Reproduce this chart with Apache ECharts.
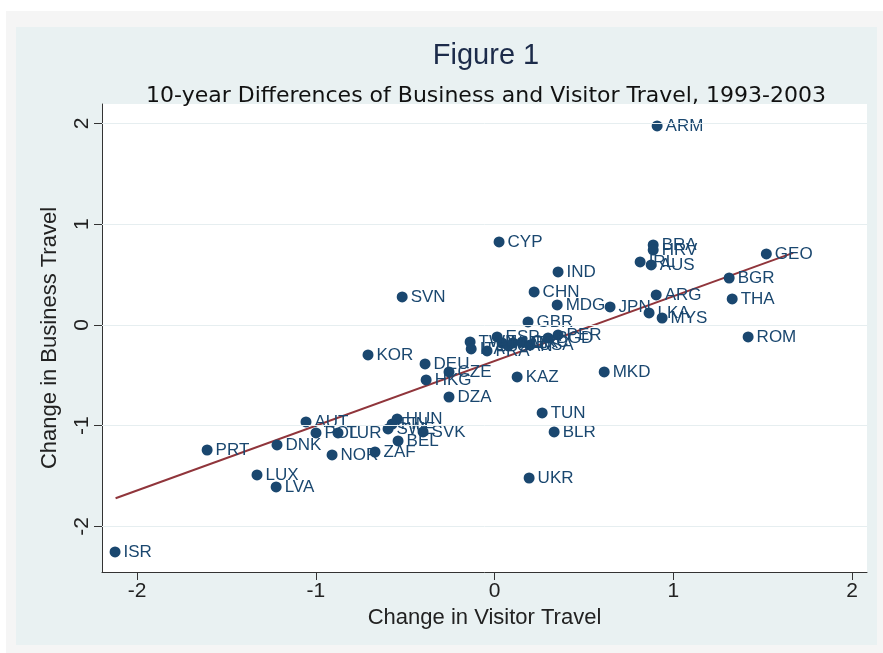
<!DOCTYPE html>
<html>
<head>
<meta charset="utf-8">
<script src="https://cdn.jsdelivr.net/npm/echarts@6/dist/echarts.min.js"></script>
<style>
  html, body { margin: 0; padding: 0; background: #ffffff; }
  #main { width: 883px; height: 653px; }
</style>
</head>
<body>
<div id="main"></div>
<script>
// country codes, visitor travel change (x), business travel change (y)
var countries = ['ARM','CYP','BRA','HRV','IRL','AUS','GEO','BGR','ARG','THA','JPN','LKA','MYS','ROM',
    'IND','CHN','MDG','GBR','SVN','KOR','DEU','HKG','CZE','DZA','KAZ','MKD','TUN','BLR','UKR',
    'AUT','DNK','POL','TUR','NOR','ZAF','HUN','FIN','SWE','SVK','BEL','PRT','LUX','LVA','ISR',
    'TWN','ITA','FRA','ESP','NLD','CAN','MEX','GRC','USA','BGD','PER'];
var visitor = [0.909,0.025,0.887,0.887,0.814,0.876,1.520,1.312,0.904,1.329,0.646,0.864,0.937,1.418,
    0.355,0.221,0.350,0.187,-0.517,-0.708,-0.389,-0.383,-0.255,-0.255,0.126,0.613,0.266,0.333,0.193,
    -1.055,-1.217,-0.999,-0.876,-0.909,-0.669,-0.545,-0.573,-0.596,-0.400,-0.540,-1.608,-1.329,-1.222,-2.123,
    -0.137,-0.131,-0.042,0.014,0.042,0.076,0.103,0.154,0.199,0.299,0.355];
var business = [1.975,0.824,0.794,0.744,0.625,0.596,0.705,0.466,0.298,0.258,0.179,0.119,0.069,-0.119,
    0.526,0.328,0.199,0.030,0.278,-0.298,-0.387,-0.546,-0.466,-0.715,-0.516,-0.466,-0.873,-1.062,-1.519,
    -0.963,-1.191,-1.072,-1.072,-1.290,-1.261,-0.933,-0.983,-1.032,-1.062,-1.151,-1.241,-1.489,-1.608,-2.253,
    -0.169,-0.238,-0.258,-0.119,-0.179,-0.208,-0.179,-0.169,-0.199,-0.129,-0.099];

// fitted line end points
var fitX = [-2.12, 1.67];
var fitY = [-1.72, 0.715];

var tickValues = [-2, -1, 0, 1, 2];

var points = [];
for (var i = 0; i < countries.length; i++) {
    points.push([visitor[i], business[i], countries[i]]);
}
var fitLine = [[fitX[0], fitY[0]], [fitX[1], fitY[1]]];
var gridLines = tickValues.map(function (v) { return { yAxis: v }; });

var navy = '#1a476f';
var font = "'Liberation Sans', Arial, sans-serif";

var myChart = echarts.init(document.getElementById('main'));

var option = {
    animation: false,
    backgroundColor: '#ffffff',
    graphic: [
        { type: 'rect', z: -10, shape: { x: 6, y: 11, width: 877, height: 642 }, style: { fill: '#f5f5f5' } },
        { type: 'rect', z: -9, shape: { x: 16, y: 27, width: 861, height: 618 }, style: { fill: '#e9f1f2' } },
        { type: 'rect', z: -8, shape: { x: 102, y: 104, width: 765, height: 468 }, style: { fill: '#ffffff' } }
    ],
    title: [{
        text: 'Figure 1',
        left: 481, top: 36, textAlign: 'center',
        textStyle: { fontFamily: font, fontSize: 29, fontWeight: 'normal', color: '#1c2b4a' }
    }, {
        text: '10-year Differences of Business and Visitor Travel, 1993-2003',
        left: 481, top: 80, textAlign: 'center',
        textStyle: { fontFamily: "'DejaVu Sans', sans-serif", fontSize: 22, fontWeight: 'normal', color: '#111111' }
    }],
    grid: { left: 102, right: 16, top: 104, bottom: 81 },
    xAxis: {
        type: 'value',
        min: -2.196, max: 2.083,
        name: 'Change in Visitor Travel',
        nameLocation: 'middle',
        nameGap: 31,
        nameTextStyle: { fontFamily: font, fontSize: 22, color: '#222222' },
        axisLine: { onZero: false, lineStyle: { color: '#333333', width: 1 } },
        axisTick: { customValues: tickValues, length: 8, lineStyle: { color: '#333333' } },
        axisLabel: { customValues: tickValues, margin: 9, fontFamily: font, fontSize: 21, color: '#222222' },
        splitLine: { show: false }
    },
    yAxis: {
        type: 'value',
        min: -2.452, max: 2.193,
        name: 'Change in Business Travel',
        nameLocation: 'middle',
        nameGap: 41,
        nameTextStyle: { fontFamily: font, fontSize: 22, color: '#222222' },
        axisLine: { onZero: false, lineStyle: { color: '#333333', width: 1 } },
        axisTick: { customValues: tickValues, length: 8, lineStyle: { color: '#333333' } },
        axisLabel: { customValues: tickValues, rotate: 90, margin: 9, fontFamily: font, fontSize: 21, color: '#222222' },
        splitLine: { show: false }
    },
    series: [{
        type: 'line',
        data: fitLine,
        z: 2,
        symbol: 'none',
        lineStyle: { color: '#90353b', width: 2 },
        markLine: {
            silent: true,
            symbol: 'none',
            label: { show: false },
            lineStyle: { color: '#e6eef0', width: 1, type: 'solid' },
            data: gridLines
        }
    }, {
        type: 'scatter',
        data: points,
        z: 3,
        symbolSize: 11,
        itemStyle: { color: navy, opacity: 1 },
        label: {
            show: true,
            position: 'right',
            distance: 3,
            formatter: function (p) { return p.data[2]; },
            fontFamily: font,
            fontSize: 17,
            color: navy
        },
        labelLayout: { hideOverlap: false }
    }]
};

myChart.setOption(option);
</script>
</body>
</html>
